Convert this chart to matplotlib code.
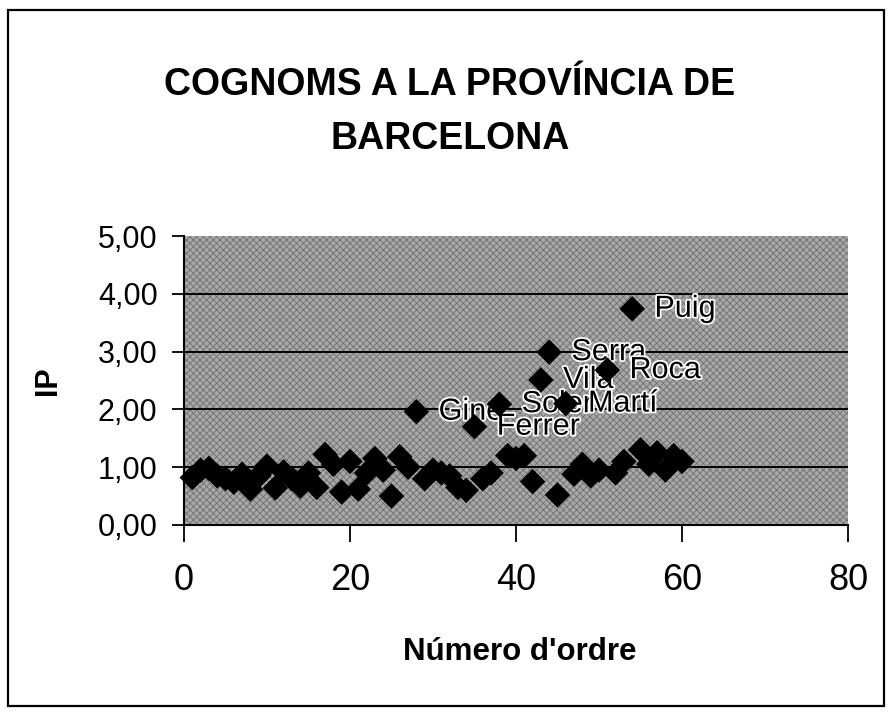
import matplotlib
matplotlib.use("Agg")
import matplotlib.pyplot as plt
import matplotlib.patheffects as pe
from matplotlib.patches import Rectangle
from matplotlib.ticker import FuncFormatter

# ---- data ----
order = list(range(1, 61))
ip = [0.82, 0.95, 0.98, 0.85, 0.80, 0.74, 0.88, 0.62, 0.85, 1.02,
      0.64, 0.92, 0.80, 0.67, 0.90, 0.65, 1.22, 1.05, 0.57, 1.10,
      0.62, 0.90, 1.15, 0.95, 0.50, 1.18, 1.00, 1.96, 0.80, 0.95,
      0.90, 0.85, 0.65, 0.60, 1.70, 0.80, 0.90, 2.09, 1.20, 1.15,
      1.20, 0.75, 2.51, 2.99, 0.52, 2.10, 0.88, 1.05, 0.85, 0.95,
      2.68, 0.90, 1.10, 3.74, 1.30, 1.05, 1.25, 0.95, 1.20, 1.10]
label_names = ["Giné", "Ferrer", "Soler", "Vila", "Serra", "Martí", "Roca", "Puig"]
label_order = [28, 35, 38, 43, 44, 46, 51, 54]

title_text = "COGNOMS A LA PROVÍNCIA DE\nBARCELONA"
x_label = "Número d'ordre"
y_label = "IP"
x_ticks = [0, 20, 40, 60, 80]
y_ticks = [0, 1, 2, 3, 4, 5]

W, H = 892, 716
plt.rcParams["hatch.linewidth"] = 0.6
fig = plt.figure(figsize=(W / 100, H / 100), dpi=100)
fig.patch.set_facecolor("white")

fam = ["Liberation Sans", "DejaVu Sans"]

# outer frame
fig.patches.append(Rectangle((8 / W, 10 / H), (884 - 8) / W, (706 - 10) / H,
                             transform=fig.transFigure, fill=False,
                             edgecolor="black", linewidth=1.6))

ax = fig.add_axes([184 / W, (H - 525) / H, (848 - 184) / W, (525 - 236) / H])
ax.set_facecolor("#a8a8a8")
ax.patch.set_hatch("xxxxx")
ax.patch.set_edgecolor("#707070")

ax.set_xlim(0, 80)
ax.set_ylim(0, 5)
ax.set_xticks(x_ticks)
ax.set_yticks(y_ticks)
ax.yaxis.set_major_formatter(FuncFormatter(lambda v, p: f"{v:.2f}".replace(".", ",")))

for s in ["top", "right"]:
    ax.spines[s].set_visible(False)
for s in ["left", "bottom"]:
    ax.spines[s].set_linewidth(1.5)
    ax.spines[s].set_color("black")

for yv in y_ticks[1:-1]:
    ax.axhline(yv, color="black", linewidth=1.4, zorder=1)

ax.tick_params(axis="y", direction="out", length=9, width=1.3, pad=10)
ax.tick_params(axis="x", direction="out", length=12, width=1.3, pad=15)
for t in ax.get_yticklabels():
    t.set_fontfamily(fam)
    t.set_fontsize(22)
for t in ax.get_xticklabels():
    t.set_fontfamily(fam)
    t.set_fontsize(26)

ax.scatter(order, ip, marker="D", s=13 ** 2, color="black",
           edgecolors="none", zorder=4, clip_on=False)

for name, o in zip(label_names, label_order):
    ax.annotate(name, (o, ip[o - 1]), xytext=(16, 0), textcoords="offset points",
                ha="left", va="center", fontsize=22, family=fam,
                color="black", zorder=3,
                path_effects=[pe.withStroke(linewidth=2.5, foreground="white")])

fig.text(450 / W, 1 - 112 / H, title_text, ha="center", va="center",
         fontsize=27, fontweight="bold", family=fam, linespacing=1.65)
fig.text(520 / W, 1 - 652 / H, x_label, ha="center", va="center",
         fontsize=22.5, fontweight="bold", family=fam)
fig.text(48 / W, 1 - 381 / H, y_label, ha="center", va="center",
         fontsize=22, fontweight="bold", family=fam, rotation=90)

fig.savefig("out.png", dpi=100, facecolor="white")
